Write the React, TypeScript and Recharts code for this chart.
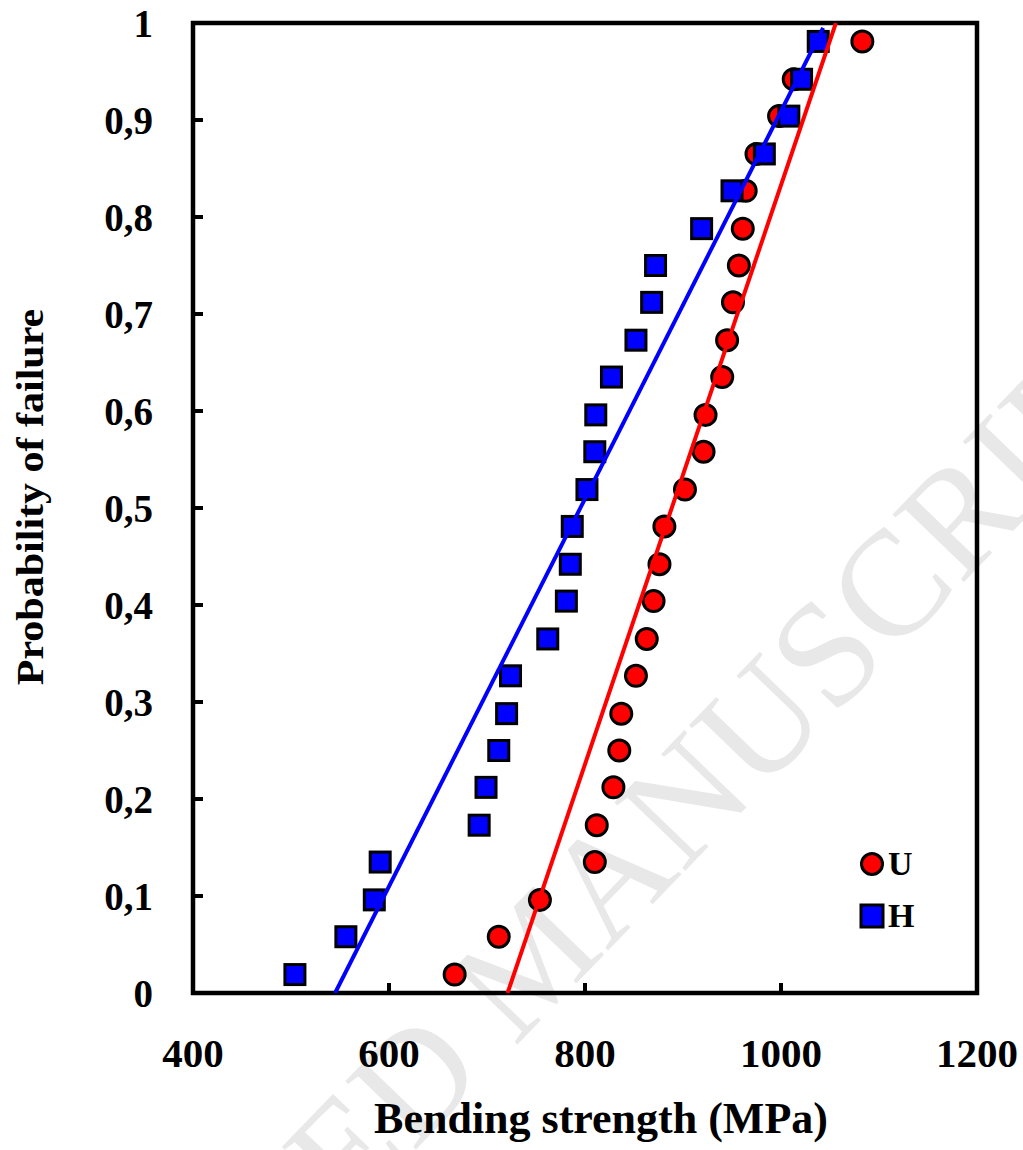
import React from "react";
import { ComposedChart, Line, Scatter, XAxis, YAxis, ReferenceArea, Legend } from "recharts";

// probability of failure, shared by both series
const probability = [
    0.019, 0.058, 0.096, 0.135, 0.173, 0.212, 0.25, 0.288, 0.327, 0.365, 0.404, 0.442, 0.481,
    0.519, 0.558, 0.596, 0.635, 0.673, 0.712, 0.75, 0.788, 0.827, 0.865, 0.904, 0.942, 0.981
];

// bending strength (MPa), series U
const uStrength = [
    667, 712, 754, 810, 812, 829, 835, 837, 852, 863, 870, 876, 881,
    902, 921, 923, 940, 945, 951, 957, 961, 964, 975, 998, 1013, 1083
];

// bending strength (MPa), series H
const hStrength = [
    504, 556, 585, 591, 692, 699, 712, 720, 724, 762, 781, 785, 787,
    802, 810, 811, 827, 852, 868, 872, 919, 950, 983, 1008, 1021, 1038
];

// fitted lines (endpoints)
const uFitX = [721, 1056];
const uFitP = [0, 1];
const hFitX = [545, 1043];
const hFitP = [0, 0.995];

const xTicks = [400, 600, 800, 1000, 1200];
const yTicks = [0, 0.1, 0.2, 0.3, 0.4, 0.5, 0.6, 0.7, 0.8, 0.9, 1];

const uPoints = uStrength.map((x, i) => ({ x, y: probability[i] }));
const hPoints = hStrength.map((x, i) => ({ x, y: probability[i] }));
const uFit = uFitX.map((x, i) => ({ x, y: uFitP[i] }));
const hFit = hFitX.map((x, i) => ({ x, y: hFitP[i] }));

const FONT = "'Liberation Serif', 'Times New Roman', serif";

const Circle = (props: any) => (
    <circle cx={props.cx} cy={props.cy} r={10.5} fill="#ff0000" stroke="#000" strokeWidth={3} />
);

const Square = (props: any) => (
    <rect x={props.cx - 10} y={props.cy - 10} width={20} height={20} fill="#0000ff" stroke="#000" strokeWidth={3} />
);

const renderLegend = () => (
    <div style={{ fontFamily: FONT, fontWeight: "bold", fontSize: 34, color: "#000" }}>
        <div style={{ display: "flex", alignItems: "center", height: 40 }}>
            <svg width={28} height={28}>
                <circle cx={14} cy={14} r={10.5} fill="#ff0000" stroke="#000" strokeWidth={3} />
            </svg>
            <span style={{ marginLeft: 2 }}>U</span>
        </div>
        <div style={{ display: "flex", alignItems: "center", height: 40, marginTop: 12 }}>
            <svg width={28} height={28}>
                <rect x={3} y={3} width={22} height={22} fill="#0000ff" stroke="#000" strokeWidth={3} />
            </svg>
            <span style={{ marginLeft: 2 }}>H</span>
        </div>
    </div>
);

const fmt = (v: number) => (v === 0 || v === 1 ? String(v) : String(v).replace(".", ","));

export default function App() {
    return (
        <div style={{ position: "absolute", left: 0, top: 0, width: 1023, height: 1150, background: "#fff" }}>
            <svg width={1023} height={1150} style={{ position: "absolute", left: 0, top: 0 }}>
                <text
                    x={568}
                    y={992}
                    textAnchor="middle"
                    fontFamily={FONT}
                    fontSize={150}
                    fill="#e8e8e8"
                    transform="rotate(-46, 568, 992)"
                >
                    ACCEPTED MANUSCRIPT
                </text>
                <text
                    x={0}
                    y={0}
                    textAnchor="middle"
                    fontFamily={FONT}
                    fontWeight="bold"
                    fontSize={42}
                    fill="#000"
                    transform="translate(43, 497) rotate(-90) scale(1, 0.92)"
                >
                    Probability of failure
                </text>
                <text x={601} y={1133} textAnchor="middle" fontFamily={FONT} fontWeight="bold" fontSize={44} fill="#000">
                    Bending strength (MPa)
                </text>
            </svg>
            <div style={{ position: "absolute", left: 0, top: 0 }}>
                <ComposedChart width={1023} height={1150} margin={{ top: 23, right: 46, bottom: 127, left: 133 }}>
                    <XAxis
                        type="number"
                        dataKey="x"
                        domain={[400, 1200]}
                        ticks={xTicks}
                        height={30}
                        axisLine={false}
                        tickLine={{ stroke: "#000", strokeWidth: 4 }}
                        tickSize={-10}
                        tickMargin={55}
                        tick={{ fill: "#000", fontFamily: FONT, fontWeight: "bold", fontSize: 41 }}
                        allowDataOverflow
                    />
                    <YAxis
                        type="number"
                        dataKey="y"
                        domain={[0, 1]}
                        ticks={yTicks}
                        width={60}
                        axisLine={false}
                        tickLine={{ stroke: "#000", strokeWidth: 4 }}
                        tickSize={-10}
                        tickMargin={50}
                        tickFormatter={fmt}
                        tick={{ fill: "#000", fontFamily: FONT, fontWeight: "bold", fontSize: 39 }}
                        allowDataOverflow
                    />
                    <ReferenceArea x1={400} x2={1200} y1={0} y2={1} fill="none" stroke="#000" strokeWidth={4.5} />
                    <Scatter name="U" data={uPoints} shape={Circle} isAnimationActive={false} />
                    <Scatter name="H" data={hPoints} shape={Square} isAnimationActive={false} />
                    <Line data={uFit} dataKey="y" stroke="#ff0000" strokeWidth={4} dot={false} isAnimationActive={false} zIndex={700} />
                    <Line data={hFit} dataKey="y" stroke="#0000ff" strokeWidth={4} dot={false} isAnimationActive={false} zIndex={700} />
                    <Legend
                        content={renderLegend}
                        layout="vertical"
                        align="center"
                        verticalAlign="middle"
                        wrapperStyle={{ left: 858, top: 844, width: 80 }}
                    />
                </ComposedChart>
            </div>
        </div>
    );
}
